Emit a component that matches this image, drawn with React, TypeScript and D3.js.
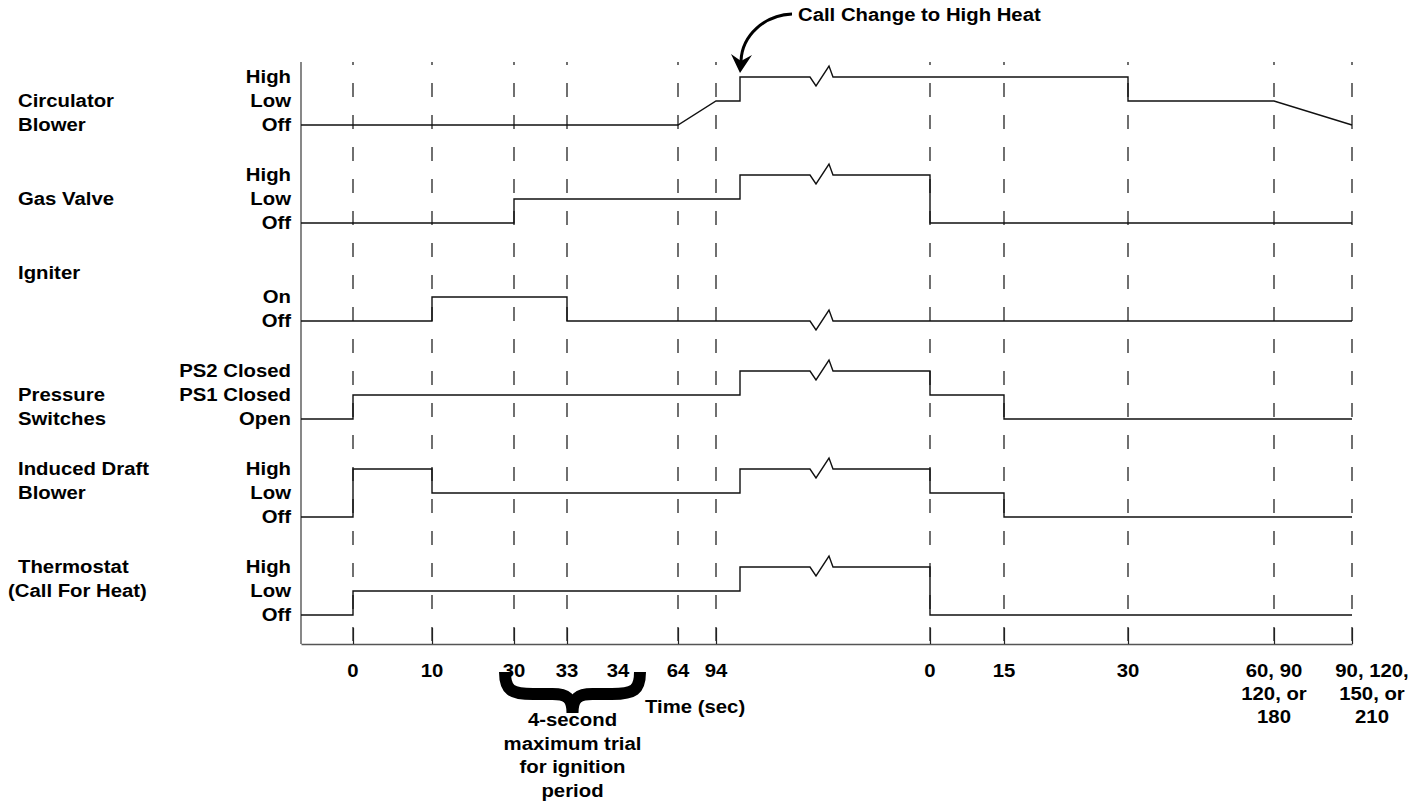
import React, { useEffect, useRef } from 'react';
import * as d3 from 'd3';

const W = 1420;
const H = 804;

// schematic (not to scale) time axis: every event the diagram refers to, in order
const eventKeys = ['start', 't0', 't10', 't30', 't33', 't34', 't64', 't94', 'hi', 'brkA', 'brkB', 's0', 's15', 's30', 's60', 's90'];
const eventPx = [301, 353, 432, 514, 567, 618, 678, 716, 740, 810, 833, 930, 1004, 1128, 1274, 1352];

// events that get a tick + dashed guide line
const gridEvents = ['t0', 't10', 't30', 't33', 't64', 't94', 's0', 's15', 's30', 's60', 's90'];
// tick labels (34 has a label but no tick)
const labelEvents = ['t0', 't10', 't30', 't33', 't34', 't64', 't94', 's0', 's15', 's30', 's60', 's90'];
const tickLabels = [['0'], ['10'], ['30'], ['33'], ['34'], ['64'], ['94'], ['0'], ['15'], ['30'], ['60, 90', '120, or', '180'], ['90, 120,', '150, or', '210']];

const rows = ['circ', 'gas', 'ign', 'ps', 'idb', 'tstat'];
const rowNames = [['Circulator', 'Blower'], ['Gas Valve'], ['Igniter'], ['Pressure', 'Switches'], ['Induced Draft', 'Blower'], ['Thermostat', '(Call For Heat)']];
const rowNameTop = [1, 1, 2, 1, 2, 2]; // level the first name line sits on
const rowLevels = [
  ['Off', 'Low', 'High'],
  ['Off', 'Low', 'High'],
  ['Off', 'On'],
  ['Open', 'PS1 Closed', 'PS2 Closed'],
  ['Off', 'Low', 'High'],
  ['Off', 'Low', 'High'],
];

// traces: [event, level]; 'brk' = break symbol in the time axis
type Pt = [string, number];
const circulator: Pt[] = [['start', 0], ['t64', 0], ['t94', 1], ['hi', 1], ['hi', 2], ['brk', 2], ['s30', 2], ['s30', 1], ['s60', 1], ['s90', 0]];
const gasValve: Pt[] = [['start', 0], ['t30', 0], ['t30', 1], ['hi', 1], ['hi', 2], ['brk', 2], ['s0', 2], ['s0', 0], ['s90', 0]];
const igniter: Pt[] = [['start', 0], ['t10', 0], ['t10', 1], ['t33', 1], ['t33', 0], ['brk', 0], ['s90', 0]];
const pressure: Pt[] = [['start', 0], ['t0', 0], ['t0', 1], ['hi', 1], ['hi', 2], ['brk', 2], ['s0', 2], ['s0', 1], ['s15', 1], ['s15', 0], ['s90', 0]];
const inducer: Pt[] = [['start', 0], ['t0', 0], ['t0', 2], ['t10', 2], ['t10', 1], ['hi', 1], ['hi', 2], ['brk', 2], ['s0', 2], ['s0', 1], ['s15', 1], ['s15', 0], ['s90', 0]];
const thermostat: Pt[] = [['start', 0], ['t0', 0], ['t0', 1], ['hi', 1], ['hi', 2], ['brk', 2], ['s0', 2], ['s0', 0], ['s90', 0]];
const traces = [circulator, gasValve, igniter, pressure, inducer, thermostat];

const calloutText = 'Call Change to High Heat';
const braceText = ['4-second', 'maximum trial', 'for ignition', 'period'];
const axisTitle = 'Time (sec)';

const FONT = '"Liberation Sans", Arial, Helvetica, sans-serif';

const TimingChart: React.FC = () => {
  const ref = useRef<SVGSVGElement>(null);

  useEffect(() => {
    const svg = d3.select(ref.current);
    svg.selectAll('*').remove();

    const x = d3.scaleLinear().domain(eventKeys.map((_, i) => i)).range(eventPx);
    const xe = (k: string) => x(eventKeys.indexOf(k));
    const yRow = d3.scalePoint<string>().domain(rows).range([125, 615]);
    const yLev = d3.scaleLinear().domain([0, 2]).range([0, -48]);
    const axisY = 644;
    const topY = 62;

    // the source artwork is stretched a little horizontally
    const text = (g: any, tx: number, ty: number, s: string, anchor: string) =>
      g.append('text')
        .attr('transform', `translate(${tx},${ty}) scale(1.13,1)`)
        .attr('text-anchor', anchor)
        .text(s);

    const root = svg.append('g')
      .attr('font-family', FONT)
      .attr('font-weight', 'bold')
      .attr('font-size', 18)
      .attr('fill', '#000');

    // dashed guide lines
    root.append('g').selectAll('line')
      .data(gridEvents)
      .join('line')
      .attr('x1', (d) => xe(d)).attr('x2', (d) => xe(d))
      .attr('y1', topY).attr('y2', axisY)
      .attr('stroke', '#111').attr('stroke-width', 1.2)
      .attr('stroke-dasharray', '14 18').attr('stroke-dashoffset', 11);

    // axes
    root.append('line')
      .attr('x1', eventPx[0]).attr('x2', eventPx[0])
      .attr('y1', topY).attr('y2', axisY)
      .attr('stroke', '#555').attr('stroke-width', 1.4);
    const axis = d3.axisBottom(x)
      .tickValues(gridEvents.map((k) => eventKeys.indexOf(k)))
      .tickSizeInner(-16).tickSizeOuter(0)
      .tickFormat(() => '');
    const ag = root.append('g').attr('transform', `translate(0,${axisY})`).call(axis);
    ag.select('.domain').attr('stroke', '#555').attr('stroke-width', 1.4);
    ag.selectAll('.tick line').attr('stroke', '#222').attr('stroke-width', 1.2);

    // tick labels
    labelEvents.forEach((k, i) => {
      const last = i === labelEvents.length - 1;
      tickLabels[i].forEach((s, j) => {
        text(root, xe(k) + (last ? 20 : 0), 677 + j * 23, s, 'middle');
      });
    });
    text(root, xe('t34') + 27, 713, axisTitle, 'start');

    // signal traces
    const line = d3.line<[number, number]>();
    traces.forEach((tr, r) => {
      const base = yRow(rows[r]) as number;
      const pts: [number, number][] = [];
      tr.forEach(([k, lv]) => {
        const y = base + yLev(lv);
        if (k === 'brk') {
          const a = xe('brkA');
          const b = xe('brkB');
          pts.push([a, y], [a + 6, y + 9], [b - 4, y - 11], [b, y]);
        } else {
          pts.push([xe(k), y]);
        }
      });
      root.append('path')
        .attr('d', line(pts))
        .attr('fill', 'none')
        .attr('stroke', '#111')
        .attr('stroke-width', 1.4)
        .attr('stroke-linejoin', 'miter');

      // level labels
      rowLevels[r].forEach((s, lv) => {
        text(root, 291, base + yLev(lv) + 6, s, 'end');
      });
      // row name
      rowNames[r].forEach((s, j) => {
        const lv = rowNameTop[r] - j;
        text(root, s.startsWith('(') ? 8 : 18, base + yLev(lv) + 6, s, 'start');
      });
    });

    // callout arrow for the call change to high heat
    const tipX = xe('hi');
    const tipY = (yRow('circ') as number) + yLev(2) - 4;
    const tx = tipX + 58;
    text(root, tx, 21, calloutText, 'start');
    root.append('path')
      .attr('d', `M${tx - 6},14 C${tipX + 25},15 ${tipX + 2},35 ${tipX + 1},${tipY - 12}`)
      .attr('fill', 'none').attr('stroke', '#000').attr('stroke-width', 3);
    root.append('path')
      .attr('d', `M${tipX},${tipY} L${tipX - 9},${tipY - 19} L${tipX + 1},${tipY - 12} L${tipX + 12},${tipY - 18} Z`)
      .attr('fill', '#000');

    // curly brace for the ignition trial window
    const xL = xe('t30') - 9;
    const xR = xe('t34') + 22;
    const xM = (xL + xR) / 2;
    const bt = 672;
    const bm = 694;
    const bb = 713;
    const brace = `M${xL},${bt} C${xL},${bm - 4} ${xL + 6},${bm} ${xL + 28},${bm} L${xM - 20},${bm} C${xM - 6},${bm} ${xM},${bm + 4} ${xM},${bb}` +
      ` M${xR},${bt} C${xR},${bm - 4} ${xR - 6},${bm} ${xR - 28},${bm} L${xM + 20},${bm} C${xM + 6},${bm} ${xM},${bm + 4} ${xM},${bb}`;
    root.append('path')
      .attr('d', brace)
      .attr('fill', 'none').attr('stroke', '#000').attr('stroke-width', 12)
      .attr('stroke-linejoin', 'round');
    braceText.forEach((s, j) => {
      text(root, xM, 726 + j * 23.5, s, 'middle');
    });
  }, []);

  return (
    <svg
      ref={ref}
      width={W}
      height={H}
      style={{ position: 'absolute', left: 0, top: 0, background: '#fff' }}
    />
  );
};

export default function App() {
  return <TimingChart />;
}
